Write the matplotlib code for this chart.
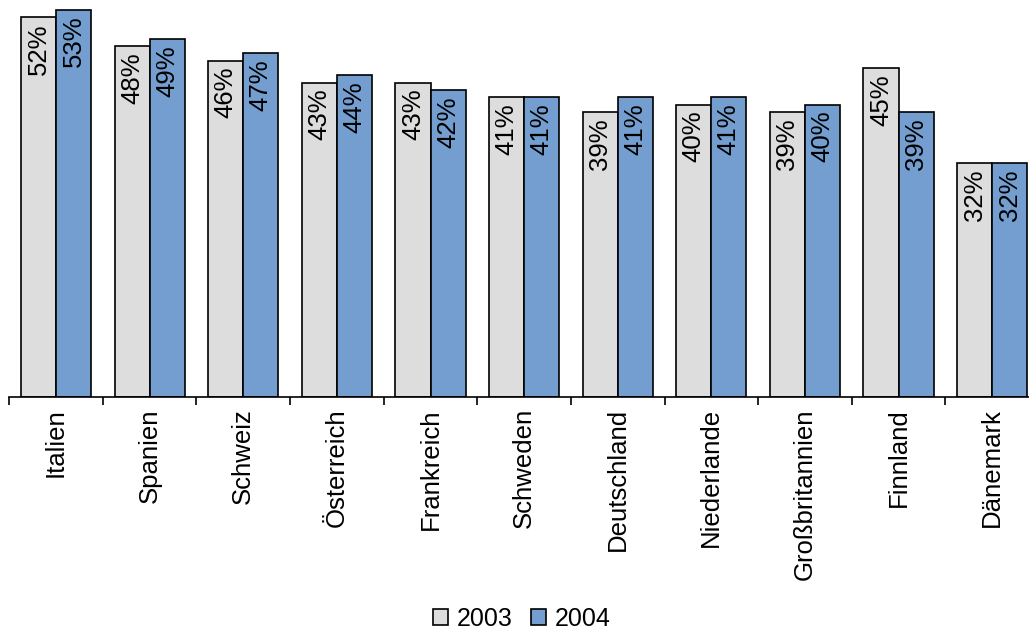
import numpy as np
import matplotlib.pyplot as plt

plt.rcParams['font.family'] = ['Liberation Sans', 'DejaVu Sans']

countries = ['Italien', 'Spanien', 'Schweiz', 'Österreich', 'Frankreich', 'Schweden',
             'Deutschland', 'Niederlande', 'Großbritannien', 'Finnland', 'Dänemark']
years = ['2003', '2004']
values_2003 = [52, 48, 46, 43, 43, 41, 39, 40, 39, 45, 32]
values_2004 = [53, 49, 47, 44, 42, 41, 41, 41, 40, 39, 32]

colors = ['#dddddd', '#739ecf']
fs = 18.5

fig = plt.figure(figsize=(10.29, 6.31), dpi=100)
# axes runs slightly past the right edge, last group is cut off
ax = fig.add_axes([9.3 / 1029, 1 - 397 / 631, 936.0 * 11 / 10 / 1029, 397 / 631])

x = np.arange(len(countries))
w = 0.374
series = [values_2003, values_2004]
bars = []
for i, (vals, c, yr) in enumerate(zip(series, colors, years)):
    b = ax.bar(x + (i - 0.5) * w, vals, width=w, color=c, edgecolor='black',
               linewidth=1.2, label=yr, zorder=2)
    bars.append(b)
    for xi, v in zip(x + (i - 0.5) * w, vals):
        ax.annotate(f'{v}%', (xi, v), xytext=(0, -4.5), textcoords='offset points',
                    rotation=90, ha='center', va='top', fontsize=fs)

ax.set_xlim(-0.5, len(countries) - 0.5)
ax.set_ylim(0, 54.3)

for s in ['left', 'right', 'top']:
    ax.spines[s].set_visible(False)
ax.spines['bottom'].set_linewidth(1.2)
ax.set_yticks([])

ax.set_xticks(x)
ax.set_xticklabels(countries, rotation=90, fontsize=fs)
ax.tick_params(axis='x', which='major', length=0, pad=8)
ax.set_xticks(np.arange(len(countries) + 1) - 0.5, minor=True)
ax.tick_params(axis='x', which='minor', length=6, width=1.2, direction='out')

fig.legend(handles=bars, labels=years, loc='center', bbox_to_anchor=(522 / 1029, 1 - 619 / 631),
           ncol=2, frameon=False, fontsize=18, handlelength=0.6, handleheight=0.6,
           handletextpad=0.35, columnspacing=0.75, borderpad=0)

fig.savefig('out.png', dpi=100)
